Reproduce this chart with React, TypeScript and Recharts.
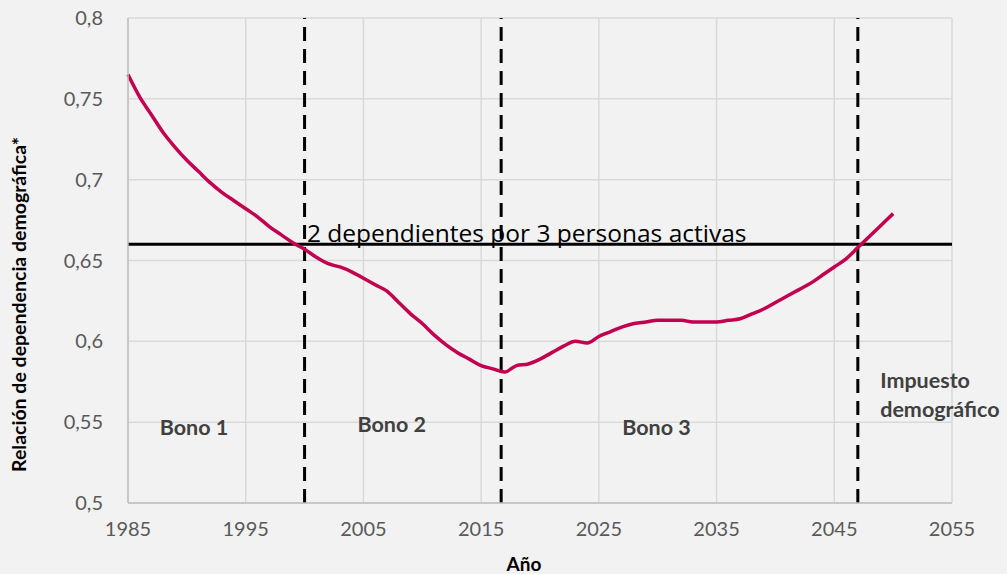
import { LineChart, Line, XAxis, YAxis, CartesianGrid, ReferenceLine, ReferenceDot, Label } from "recharts"

// dependency ratio by year
const years = [
  1985, 1986, 1987, 1988, 1989, 1990, 1991, 1992, 1993, 1994,
  1995, 1996, 1997, 1998, 1999, 2000, 2001, 2002, 2003, 2004,
  2005, 2006, 2007, 2008, 2009, 2010, 2011, 2012, 2013, 2014,
  2015, 2016, 2017, 2018, 2019, 2020, 2021, 2022, 2023, 2024,
  2025, 2026, 2027, 2028, 2029, 2030, 2031, 2032, 2033, 2034,
  2035, 2036, 2037, 2038, 2039, 2040, 2041, 2042, 2043, 2044,
  2045, 2046, 2047, 2048, 2049, 2050,
]
const ratio = [
  0.765, 0.751, 0.74, 0.729, 0.72, 0.712, 0.705, 0.698, 0.692, 0.687,
  0.682, 0.677, 0.671, 0.666, 0.661, 0.657, 0.652, 0.648, 0.646, 0.643,
  0.639, 0.635, 0.631, 0.624, 0.617, 0.611, 0.604, 0.598, 0.593, 0.589,
  0.585, 0.583, 0.581, 0.585, 0.586, 0.589, 0.593, 0.597, 0.6, 0.599,
  0.603, 0.606, 0.609, 0.611, 0.612, 0.613, 0.613, 0.613, 0.612, 0.612,
  0.612, 0.613, 0.614, 0.617, 0.62, 0.624, 0.628, 0.632, 0.636, 0.641,
  0.646, 0.651, 0.658, 0.665, 0.672, 0.679,
]

const xTicks = [1985, 1995, 2005, 2015, 2025, 2035, 2045, 2055]
const yTicks = [0.5, 0.55, 0.6, 0.65, 0.7, 0.75, 0.8]

const threshold = 0.66
const phaseLimits = [2000, 2016.7, 2047]

const notes = [
  { text: "2 dependientes por 3 personas activas", year: 2000.2, value: 0.6612, anchor: "start", bold: false },
  { text: "Bono 1", year: 1990.6, value: 0.5422, anchor: "middle", bold: true },
  { text: "Bono 2", year: 2007.4, value: 0.5442, anchor: "middle", bold: true },
  { text: "Bono 3", year: 2029.9, value: 0.542, anchor: "middle", bold: true },
  { text: "Impuesto", year: 2048.9, value: 0.5711, anchor: "start", bold: true },
  { text: "demográfico", year: 2048.9, value: 0.5532, anchor: "start", bold: true },
]

const data = years.map((y, i) => ({ year: y, ratio: ratio[i] }))

const font = "Lato, 'Open Sans', sans-serif"
const fmt = (v: number) => String(v).replace(".", ",")

export default function App() {
  return (
    <div style={{ position: "fixed", left: 0, top: 0, width: 1007, height: 574, background: "#f2f2f2", fontFamily: font }}>
      <LineChart width={1007} height={574} data={data} margin={{ top: 18, right: 55, bottom: 0, left: 0 }}>
        <CartesianGrid stroke="#d9d9d9" strokeWidth={1.5} />
        <XAxis
          dataKey="year"
          type="number"
          domain={[1985, 2055]}
          ticks={xTicks}
          tickLine={false}
          tickSize={0}
          tickMargin={19}
          height={71}
          axisLine={{ stroke: "#bfbfbf", strokeWidth: 1.5 }}
          tick={{ fontSize: 20, fill: "#595959", fontFamily: font }}
        >
          <Label
            content={(p: any) => (
              <text
                x={p.viewBox.x + p.viewBox.width / 2 - 16}
                y={p.viewBox.y + p.viewBox.height - 3}
                textAnchor="middle"
                fontSize={19}
                fontWeight={700}
                fill="#000"
                fontFamily={font}
              >
                Año
              </text>
            )}
          />
        </XAxis>
        <YAxis
          type="number"
          domain={[0.5, 0.8]}
          ticks={yTicks}
          tickFormatter={fmt}
          tickLine={false}
          tickSize={0}
          tickMargin={25}
          width={128}
          axisLine={{ stroke: "#bfbfbf", strokeWidth: 1.5 }}
          tick={{ fontSize: 20, fill: "#595959", fontFamily: font }}
        >
          <Label
            content={(p: any) => {
              const cx = p.viewBox.x + 18
              const cy = p.viewBox.y + p.viewBox.height / 2 + 44
              return (
                <text
                  x={cx}
                  y={cy}
                  transform={`rotate(-90 ${cx} ${cy})`}
                  textAnchor="middle"
                  dominantBaseline="central"
                  fontSize={19.5}
                  fontWeight={700}
                  fill="#000"
                  fontFamily={font}
                >
                  Relación de dependencia demográfica*
                </text>
              )
            }}
          />
        </YAxis>
        <ReferenceLine y={threshold} stroke="#000" strokeWidth={3} />
        {phaseLimits.map((x) => (
          <ReferenceLine key={x} x={x} stroke="#000" strokeWidth={3} strokeDasharray="14 8" />
        ))}
        <Line
          type="monotone"
          dataKey="ratio"
          stroke="#c3004f"
          strokeWidth={3.5}
          dot={false}
          isAnimationActive={false}
        />
        {notes.map((n) => (
          <ReferenceDot
            key={n.text}
            x={n.year}
            y={n.value}
            r={0}
            fill="none"
            stroke="none"
            label={(p: any) => (
              <text
                x={p.viewBox.x + (p.viewBox.width || 0) / 2}
                y={p.viewBox.y + (p.viewBox.height || 0) / 2}
                textAnchor={n.anchor}
                fontSize={n.bold ? 21.5 : 24.5}
                fontWeight={n.bold ? 700 : 400}
                fill={n.bold ? "#404040" : "#000"}
                fontFamily={n.bold ? font : "'Open Sans', sans-serif"}
              >
                {n.text}
              </text>
            )}
          />
        ))}
      </LineChart>
    </div>
  )
}
